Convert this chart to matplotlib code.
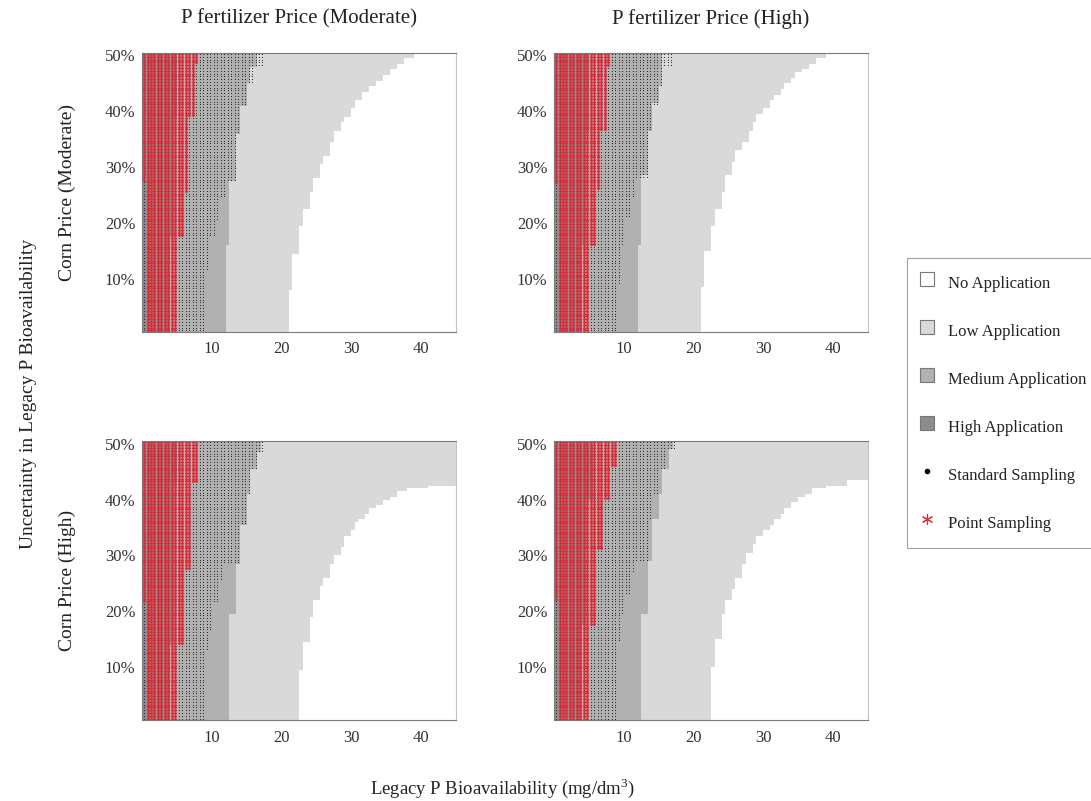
import numpy as np
import matplotlib.pyplot as plt
from matplotlib.colors import ListedColormap
from matplotlib.lines import Line2D

plt.rcParams['font.family'] = ['Liberation Serif', 'DejaVu Serif']
plt.rcParams['mathtext.fontset'] = 'custom'
plt.rcParams['mathtext.rm'] = 'Liberation Serif'

# boundaries: (upper y in %, x threshold in mg/dm3)
# cells left of the threshold belong to the level (or a higher one)
tl_low = [(8.0, 21.0), (14.6, 21.75), (19.7, 22.5), (22.7, 23.25), (25.3, 24.0), (28.0, 24.75),
          (30.4, 25.5), (32.2, 26.25), (34.6, 27.0), (36.4, 27.75), (37.9, 28.5), (39.1, 29.25),
          (40.6, 30.0), (41.8, 30.75), (43.3, 31.5), (44.5, 32.5), (45.4, 33.5), (46.5, 34.5),
          (47.7, 35.5), (48.6, 36.75), (49.5, 37.75), (51, 39.0)]
tl_med = [(16.1, 12.0), (27.7, 12.75), (36.1, 13.5), (41.2, 14.25), (44.8, 15.0), (48.0, 15.75), (51, 16.5)]
tl_high = [(17.3, 4.25), (38.8, 4.75), (51, 5.25)]
tl_dot = [(11.3, 9.0), (17.3, 9.75), (20.3, 10.5), (24.5, 11.0), (27.7, 12.0), (36.1, 13.5),
          (41.2, 14.25), (44.8, 15.0), (48.0, 16.0), (51, 17.5)]
tl_red = [(17.3, 5.25), (25.6, 6.0), (38.8, 6.75), (48.3, 7.75), (51, 8.25)]
tl_first = 27.4

tr_low = [(8.5, 21.0), (15.1, 21.75), (19.6, 22.5), (22.6, 23.25), (25.6, 24.0), (28.3, 24.75),
          (31.0, 25.5), (32.8, 26.25), (34.6, 27.0), (36.7, 28.0), (38.2, 28.5), (39.4, 29.25),
          (40.6, 30.0), (41.8, 31.0), (43.2, 31.75), (44.1, 32.5), (45.0, 33.25), (45.9, 34.0),
          (46.8, 34.75), (47.7, 35.5), (48.6, 36.75), (49.5, 37.75), (51, 39.0)]
tr_med = [(16.0, 12.0), (28.3, 12.75), (36.4, 13.5), (41.7, 14.25), (44.7, 15.0), (48.0, 15.5), (51, 15.75)]
tr_high = [(16.0, 4.25), (36.4, 4.75), (51, 5.25)]
tr_dot = [(8.8, 9.0), (16.0, 9.5), (20.8, 10.25), (24.4, 11.0), (28.0, 11.75), (36.4, 13.5),
          (41.2, 14.25), (44.7, 15.0), (48.0, 15.75), (51, 17.25)]
tr_red = [(16.0, 5.25), (26.2, 6.0), (36.4, 6.75), (48.0, 7.5), (51, 8.25)]
tr_first = 27.0

bl_low = [(9.5, 22.5), (14.3, 23.25), (19.1, 24.0), (22.0, 24.75), (24.4, 25.5), (26.2, 26.25),
          (28.6, 27.0), (30.1, 27.75), (31.3, 28.5), (33.4, 29.25), (34.6, 30.0), (35.8, 30.5),
          (36.7, 31.25), (37.5, 32.0), (38.3, 32.75), (39.1, 33.5), (40.0, 34.5), (40.7, 35.5),
          (41.3, 36.75), (42.1, 38.25), (42.6, 41.25), (51, 46.0)]
bl_med = [(19.4, 12.75), (28.6, 13.5), (35.5, 14.25), (40.9, 15.0), (45.3, 15.75), (48.6, 16.5), (51, 17.0)]
bl_high = [(14.0, 4.25), (43.0, 4.75), (51, 5.25)]
bl_dot = [(13.1, 9.0), (16.7, 9.75), (21.5, 10.25), (25.6, 11.0), (28.6, 11.75), (35.5, 14.0),
          (40.9, 15.0), (45.3, 15.75), (48.6, 16.5), (51, 17.75)]
bl_red = [(14.0, 5.25), (27.6, 6.25), (43.0, 7.0), (51, 8.25)]
bl_first = 21.7

br_low = [(10.2, 22.75), (15.2, 23.25), (19.4, 24.0), (21.8, 24.75), (23.8, 25.5), (26.2, 26.25),
          (28.3, 27.0), (30.4, 27.75), (31.9, 28.5), (33.4, 29.25), (34.6, 30.0), (35.7, 31.0),
          (36.7, 31.75), (37.6, 32.5), (38.5, 33.25), (39.4, 34.0), (40.3, 35.0), (41.2, 36.0),
          (41.9, 37.25), (42.7, 39.0), (43.4, 42.0), (51, 46.0)]
br_med = [(19.4, 12.75), (29.2, 13.5), (36.4, 14.25), (41.2, 15.0), (45.4, 15.75), (49.0, 16.5), (51, 17.0)]
br_high = [(17.3, 4.0), (40.0, 4.75), (51, 5.5)]
br_dot = [(14.6, 9.0), (19.4, 9.5), (23.2, 10.25), (26.8, 11.0), (29.2, 11.75), (36.4, 13.5),
          (41.2, 14.25), (45.4, 15.0), (49.0, 16.0), (51, 17.75)]
br_red = [(17.3, 5.0), (31.0, 6.0), (40.0, 7.0), (46.0, 8.0), (51, 9.0)]
br_first = 22.0

col_titles = ['P fertilizer Price (Moderate)', 'P fertilizer Price (High)']
row_titles = ['Corn Price (Moderate)', 'Corn Price (High)']
level_names = ['No Application', 'Low Application', 'Medium Application', 'High Application']
level_colors = ['#ffffff', '#d9d9d9', '#b1b1b1', '#8d8d8d']
red = '#dc2b36'

x_cells = np.arange(0.25, 45, 0.5)
y_cells = np.arange(0.75, 50.3, 0.5)


def step_value(steps, y):
    for top, x in steps:
        if y <= top:
            return x
    return steps[-1][1]


def build(low, med, high, dot, redb, first):
    grid = np.zeros((len(y_cells), len(x_cells)))
    rx, ry, bx, by = [], [], [], []
    for i, y in enumerate(y_cells):
        lo, me, hi = step_value(low, y), step_value(med, y), step_value(high, y)
        d, r = step_value(dot, y), step_value(redb, y)
        for j, x in enumerate(x_cells):
            grid[i, j] = int(x < lo) + int(x < me) + int(x < hi)
            if x < r and not (j == 0 and y < first):
                rx.append(x); ry.append(y)
            elif x < d:
                bx.append(x); by.append(y)
    return grid, rx, ry, bx, by


panels = [(tl_low, tl_med, tl_high, tl_dot, tl_red, tl_first),
          (tr_low, tr_med, tr_high, tr_dot, tr_red, tr_first),
          (bl_low, bl_med, bl_high, bl_dot, bl_red, bl_first),
          (br_low, br_med, br_high, br_dot, br_red, br_first)]

fig = plt.figure(figsize=(10.91, 8.01), dpi=100)
W, H = 1091, 801
lefts = [142.3, 554.3]
tops = [52.7, 441]
cmap = ListedColormap(level_colors)
asterisk = (6, 2, 0)

for k, p in enumerate(panels):
    r, c = divmod(k, 2)
    ax = fig.add_axes([lefts[c] / W, 1 - (tops[r] + 279) / H, 313.5 / W, 279 / H])
    grid, rx, ry, bx, by = build(*p)
    ax.pcolormesh(x_cells, y_cells, grid, cmap=cmap, vmin=-0.5, vmax=3.5, shading='nearest')
    ax.scatter(bx, by, s=0.45, marker='o', color='#1a1a1a', linewidths=0)
    ax.scatter(rx, ry, s=2.4, marker=asterisk, color=red, linewidths=0.5)
    ax.set_xlim(0, 45)
    ax.set_ylim(0.5, 50.5)
    ax.set_xticks([10, 20, 30, 40])
    ax.set_yticks([10, 20, 30, 40, 50])
    ax.set_yticklabels(['10%', '20%', '30%', '40%', '50%'])
    ax.tick_params(length=0, labelsize=12, colors='#333333')
    ax.tick_params(axis='x', pad=7)
    ax.tick_params(axis='y', pad=5)
    for side in ['left', 'bottom', 'top']:
        ax.spines[side].set_color('#7a7a7a')
        ax.spines[side].set_linewidth(0.8)
    ax.spines['right'].set_color('#c4c4c4')
    ax.spines['right'].set_linewidth(0.8)
    if r == 0:
        ax.set_title(col_titles[c], fontsize=15, pad=21, color='#222222')
    if c == 0:
        fig.text(67 / W, 1 - (tops[r] + 139.5) / H, row_titles[r], rotation=90,
                 ha='center', va='center', fontsize=14, color='#222222')

fig.text(29 / W, 1 - 394 / H, 'Uncertainty in Legacy P Bioavailability', rotation=90,
         ha='center', va='center', fontsize=14, color='#222222')
fig.text(503 / W, 1 - 788 / H, r'Legacy P Bioavailability (mg/dm$^{3}$)',
         ha='center', va='center', fontsize=13.5, color='#222222')

handles = [Line2D([], [], ls='none', marker='s', markersize=9.5, markerfacecolor=level_colors[i],
                  markeredgecolor='#777777', markeredgewidth=0.8) for i in range(4)]
handles.append(Line2D([], [], ls='none', marker='.', markersize=6, color='black'))
handles.append(Line2D([], [], ls='none', marker=asterisk, markersize=8, color=red, markeredgewidth=0.8))
leg = fig.legend(handles, level_names + ['Standard Sampling', 'Point Sampling'],
                 loc='upper left', bbox_to_anchor=(906.7 / W, 1 - 257.5 / H), fontsize=12,
                 frameon=True, fancybox=False, borderpad=0.72, handlelength=1.0,
                 handleheight=2.0, handletextpad=0.74, labelspacing=1.34, borderaxespad=0)
leg.get_frame().set_edgecolor('#8a8a8a')
leg.get_frame().set_linewidth(0.8)
for t in leg.get_texts():
    t.set_color('#222222')

fig.savefig('out.png', dpi=100)
